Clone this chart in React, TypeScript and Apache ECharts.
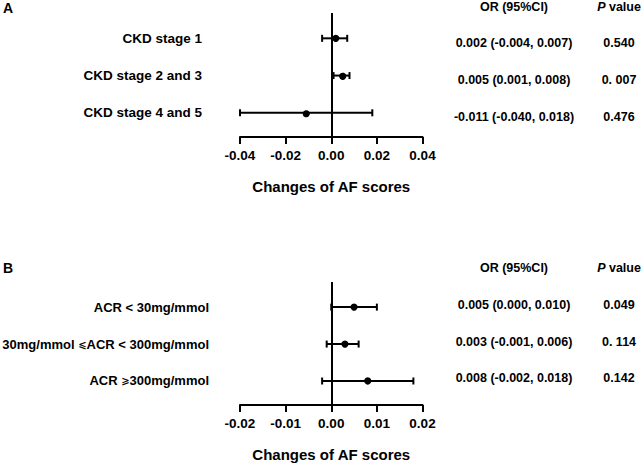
import React, { useEffect, useRef } from "react";
import * as echarts from "echarts";

const labelsA = ["CKD stage 1", "CKD stage 2 and 3", "CKD stage 4 and 5"];
const estA = [0.002, 0.005, -0.011];
const lowA = [-0.004, 0.001, -0.04];
const highA = [0.007, 0.008, 0.018];
const pA = ["0.540", "0. 007", "0.476"];
const ticksA = [-0.04, -0.02, 0, 0.02, 0.04];

const labelsB = ["ACR < 30mg/mmol", "30mg/mmol \u2A7DACR < 300mg/mmol", "ACR \u2A7E300mg/mmol"];
const estB = [0.005, 0.003, 0.008];
const lowB = [0.0, -0.001, -0.002];
const highB = [0.01, 0.006, 0.018];
const pB = ["0.049", "0. 114", "0.142"];
const ticksB = [-0.02, -0.01, 0, 0.01, 0.02];

const FONT = "'Liberation Sans', Arial, 'DejaVu Sans', sans-serif";

function fmt(v: number) {
  return v.toFixed(3);
}
function orText(e: number, l: number, h: number) {
  return `${fmt(e)} (${fmt(l)}, ${fmt(h)})`;
}
function richSymbols(s: string) {
  return s.replace(/([\u2A7D\u2A7E])/g, "{s|$1}");
}

export default function App() {
  const ref = useRef<HTMLDivElement>(null);
  useEffect(() => {
    if (!ref.current) return;
    const chart = echarts.init(ref.current, undefined, { renderer: "svg" });

    const renderItem = (params: any, api: any) => {
      const y = api.value(0);
      const lo = api.coord([api.value(1), y]);
      const est = api.coord([api.value(2), y]);
      const hi = api.coord([api.value(3), y]);
      const cap = 3.5;
      const style = { stroke: "#000", lineWidth: 2, fill: "none" };
      return {
        type: "group",
        children: [
          { type: "line", shape: { x1: lo[0], y1: lo[1], x2: hi[0], y2: hi[1] }, style },
          { type: "line", shape: { x1: lo[0], y1: lo[1] - cap, x2: lo[0], y2: lo[1] + cap }, style },
          { type: "line", shape: { x1: hi[0], y1: hi[1] - cap, x2: hi[0], y2: hi[1] + cap }, style },
          { type: "circle", shape: { cx: est[0], cy: est[1], r: 3.6 }, style: { fill: "#000" } },
        ],
      };
    };

    const mkX = (idx: number, ticks: number[]) => ({
      type: "value",
      gridIndex: idx,
      min: ticks[0],
      max: ticks[ticks.length - 1],
      interval: ticks[1] - ticks[0],
      name: "Changes of AF scores",
      nameLocation: "middle",
      nameGap: 42,
      nameTextStyle: { fontFamily: FONT, fontWeight: "bold", fontSize: 15, color: "#000", verticalAlign: "top" },
      splitLine: { show: false },
      axisLine: { show: true, onZero: false, lineStyle: { color: "#000", width: 2 } },
      axisTick: { show: true, inside: false, length: 7, lineStyle: { color: "#000", width: 2 } },
      axisLabel: {
        fontFamily: FONT,
        fontWeight: "bold",
        fontSize: 13.5,
        color: "#000",
        margin: 11,
        formatter: (v: number) => v.toFixed(2),
      },
    });

    const mkY = (idx: number, labels: string[], margin: number, fontSize: number) => ({
      type: "value",
      gridIndex: idx,
      inverse: true,
      min: -0.68,
      max: 2.65,
      splitLine: { show: false },
      axisLine: { show: false },
      axisTick: { show: false },
      axisLabel: {
        show: true,
        customValues: [0, 1, 2],
        margin,
        fontFamily: FONT,
        fontWeight: "bold",
        fontSize,
        color: "#000",
        rich: {
          s: { fontFamily: "'DejaVu Sans', sans-serif", fontSize: 10, color: "#000" },
        },
        formatter: (v: number) => richSymbols(labels[Math.round(v)] ?? ""),
      },
    });

    const zeroLine = {
      silent: true,
      symbol: ["none", "none"],
      label: { show: false },
      lineStyle: { color: "#000", width: 2, type: "solid" },
      data: [{ xAxis: 0 }],
    };

    const dataA = labelsA.map((_, i) => [i, lowA[i], estA[i], highA[i]]);
    const dataB = labelsB.map((_, i) => [i, lowB[i], estB[i], highB[i]]);

    const tableText = (x: number, y: number, text: string, extra: any = {}) => ({
      type: "text",
      x,
      y,
      style: {
        text,
        fontFamily: FONT,
        fontWeight: "bold",
        fontSize: 12.5,
        fill: "#000",
        textAlign: "center",
        textVerticalAlign: "middle",
        ...extra,
      },
    });

    const graphics: any[] = [
      { type: "text", x: 3, y: 8, style: { text: "A", fontFamily: FONT, fontWeight: "bold", fontSize: 14, fill: "#000", textVerticalAlign: "middle" } },
      { type: "text", x: 3, y: 268, style: { text: "B", fontFamily: FONT, fontWeight: "bold", fontSize: 14, fill: "#000", textVerticalAlign: "middle" } },
    ];
    const pHeader = (y: number) =>
      tableText(619, y, "{i|P} value", {
        rich: {
          i: { fontFamily: FONT, fontWeight: "bold", fontStyle: "italic", fontSize: 12.5, fill: "#000" },
        },
      });
    graphics.push(tableText(514, 7, "OR (95%CI)"));
    graphics.push(pHeader(7));
    const rowYA = [43, 80, 117];
    labelsA.forEach((_, i) => {
      graphics.push(tableText(514, rowYA[i], orText(estA[i], lowA[i], highA[i])));
      graphics.push(tableText(619, rowYA[i], pA[i]));
    });
    graphics.push(tableText(514, 268, "OR (95%CI)"));
    graphics.push(pHeader(268));
    const rowYB = [305, 342, 378];
    labelsB.forEach((_, i) => {
      graphics.push(tableText(514, rowYB[i], orText(estB[i], lowB[i], highB[i])));
      graphics.push(tableText(619, rowYB[i], pB[i]));
    });

    chart.setOption({
      animation: false,
      backgroundColor: "#fff",
      grid: [
        { left: 240, right: 219.5, top: 13, height: 124, containLabel: false, outerBoundsMode: "none" },
        { left: 240, right: 219.5, top: 282, height: 123, containLabel: false, outerBoundsMode: "none" },
      ],
      xAxis: [mkX(0, ticksA), mkX(1, ticksB)],
      yAxis: [mkY(0, labelsA, 38, 13.5), mkY(1, labelsB, 31, 13)],
      series: [
        { type: "custom", xAxisIndex: 0, yAxisIndex: 0, renderItem, data: dataA, markLine: zeroLine, clip: false, z: 3 },
        { type: "custom", xAxisIndex: 1, yAxisIndex: 1, renderItem, data: dataB, markLine: zeroLine, clip: false, z: 3 },
      ],
      graphic: graphics,
    });
    return () => chart.dispose();
  }, []);
  return <div ref={ref} style={{ position: "fixed", left: 0, top: 0, width: 642, height: 465 }} />;
}
